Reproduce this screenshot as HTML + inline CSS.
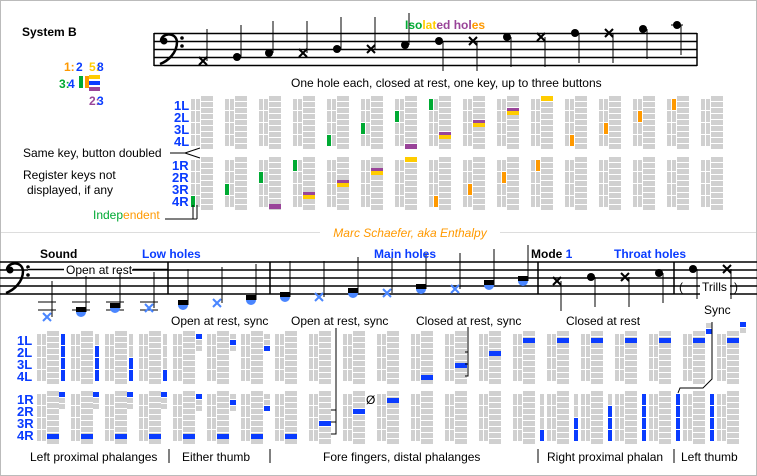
<!DOCTYPE html>
<html><head><meta charset="utf-8"><style>
html,body{margin:0;padding:0;background:#fff}
svg{display:block}
text{font-family:"Liberation Sans",sans-serif;font-size:12px}
.b{font-weight:bold}
.bl{fill:#0a3cff}
.lb{font-size:13px;font-weight:bold;fill:#0a3cff}
</style></head><body>
<svg id="s" width="757" height="476" viewBox="0 0 757 476" xmlns="http://www.w3.org/2000/svg">
<rect x="0.5" y="0.5" width="756" height="475" fill="#fff" stroke="#bbb"/>
<line x1="1" y1="232.5" x2="320" y2="232.5" stroke="#ddd"/>
<line x1="500" y1="232.5" x2="756" y2="232.5" stroke="#ddd"/>
<g id="g"></g>
<text x="22" y="36" class="b">System B</text>
<text x="64" y="71" class="b" fill="#f90">1:</text><text x="76" y="71" class="b bl">2</text>
<text x="89" y="71" class="b" fill="#fc0">5:</text><text x="97" y="71" class="b bl">8</text>
<text x="59" y="88" class="b" fill="#0a3">3:</text><text x="68" y="88" class="b bl">4</text>
<rect x="79" y="76" width="4" height="12" fill="#0a3"/><rect x="85" y="76" width="4" height="12" fill="#f90"/>
<rect x="89" y="75" width="11" height="4" fill="#fc0"/><rect x="89" y="81" width="11" height="4" fill="#0a3cff"/><rect x="89" y="87" width="11" height="4" fill="#949"/>
<text x="89" y="105" class="b" fill="#949">2:</text><text x="97" y="105" class="b bl">3</text>
<text x="405" y="29" class="b"><tspan fill="#0a3">Iso</tspan><tspan fill="#fc0">lat</tspan><tspan fill="#949">ed h</tspan><tspan fill="#949">ol</tspan><tspan fill="#f90">es</tspan></text>
<text x="291" y="87">One hole each, closed at rest, one key, up to three buttons</text>
<text x="174" y="110" class="lb">1L</text><text x="174" y="122" class="lb">2L</text><text x="174" y="134" class="lb">3L</text><text x="174" y="146" class="lb">4L</text>
<text x="172" y="170" class="lb">1R</text><text x="172" y="182" class="lb">2R</text><text x="172" y="194" class="lb">3R</text><text x="172" y="206" class="lb">4R</text>
<text x="23" y="157">Same key, button doubled</text>
<path d="M170 153 H185 L200 148 M185 153 L200 158" stroke="#000" fill="none"/>
<text x="23" y="179">Register keys not</text>
<text x="27" y="194">displayed, if any</text>
<text x="93" y="219"><tspan fill="#0a3">Indep</tspan><tspan fill="#f90">endent</tspan></text>
<path d="M165 219 H197 M193 219 V205 M197 219 V205" stroke="#000" fill="none"/>
<text x="410" y="237" text-anchor="middle" font-style="italic" fill="#f90">Marc Schaefer, aka Enthalpy</text>
<text x="40" y="258" class="b">Sound</text>
<text x="142" y="258" class="b bl">Low holes</text>
<text x="374" y="258" class="b bl">Main holes</text>
<text x="531" y="258" class="b">Mode <tspan class="bl">1</tspan></text>
<text x="614" y="258" class="b bl">Throat holes</text>
<text x="171" y="325">Open at rest, sync</text>
<text x="291" y="325">Open at rest, sync</text>
<text x="416" y="325">Closed at rest, sync</text>
<text x="566" y="325">Closed at rest</text>
<text x="704" y="314">Sync</text>
<text x="366" y="404">Ø</text>
<text x="17" y="345" class="lb">1L</text><text x="17" y="357" class="lb">2L</text><text x="17" y="369" class="lb">3L</text><text x="17" y="381" class="lb">4L</text>
<text x="17" y="404" class="lb">1R</text><text x="17" y="416" class="lb">2R</text><text x="17" y="428" class="lb">3R</text><text x="17" y="440" class="lb">4R</text>
<text x="30" y="461">Left proximal phalanges</text>
<text x="182" y="461">Either thumb</text>
<text x="323" y="461">Fore fingers, distal phalanges</text>
<text x="547" y="461">Right proximal phalan</text>
<text x="681" y="461">Left thumb</text>
<path d="M169 449 V463 M270 449 V463 M538 449 V463 M674 449 V463" stroke="#000"/>
<path d="M336 328 V434 H331 M336 422 H331 M336 410 H331" stroke="#000" fill="none"/>
<path d="M468 327 V376 H465 M468 364 H465 M468 352 H465" stroke="#000" fill="none"/>
<path d="M712 322 V379 L703 388 H680 L678 393" stroke="#000" fill="none"/>
<g id="top"></g>
</svg>
<script>
var g=document.getElementById('g'),NS='http://www.w3.org/2000/svg';
function R(x,y,w,h,c){var r=document.createElementNS(NS,'rect');r.setAttribute('x',x);r.setAttribute('y',y);r.setAttribute('width',w);r.setAttribute('height',h);r.setAttribute('fill',c);g.appendChild(r);}
function L(x1,y1,x2,y2,c,w){var l=document.createElementNS(NS,'line');l.setAttribute('x1',x1);l.setAttribute('y1',y1);l.setAttribute('x2',x2);l.setAttribute('y2',y2);l.setAttribute('stroke',c||'#000');l.setAttribute('stroke-width',w||1);g.appendChild(l);}
function C(x,y,r,c){var e=document.createElementNS(NS,'circle');e.setAttribute('cx',x);e.setAttribute('cy',y);e.setAttribute('r',r);e.setAttribute('fill',c);g.appendChild(e);}
function P(d,f,s,w){var e=document.createElementNS(NS,'path');e.setAttribute('d',d);e.setAttribute('fill',f);if(s){e.setAttribute('stroke',s);e.setAttribute('stroke-width',w);}g.appendChild(e);}
function X(x,y,c){L(x-4,y-4,x+4,y+4,c,2);L(x-4,y+4,x+4,y-4,c,2);}
function clef(x,y){ // y = top staff line
 C(x+4,y+7,3.5,'#000');
 P('M'+(x+1)+' '+(y+7)+' C'+(x+1)+' '+(y-1)+' '+(x+16)+' '+(y-3)+' '+(x+17)+' '+(y+8)+' C'+(x+17)+' '+(y+19)+' '+(x+8)+' '+(y+27)+' '+(x)+' '+(y+30),'none','#000',2.5);
 C(x+22,y+4,1.8,'#000');C(x+22,y+12,1.8,'#000');}
var G='#d0d0d0';
function chart(x,y){for(var k=0;k<4;k++){R(x,y+3+k*12,4,11,G);R(x+5,y+3+k*12,4,11,G);}for(var b=0;b<9;b++)R(x+10,y+b*6,12,5,G);}
for(var i=0;i<16;i++){var x=191+34*i;chart(x,96);chart(x,157);}
var GR='#0a3',OR='#f90',YE='#fc0',PU='#949';
function thin(i,col,grp,row,c,x0,y0){var x=x0+34*i+col*5;var y=y0[grp]+3+row*12;R(x,y,4,11,c);}
var ty=[96,157];
[[0,1,3],[1,1,2],[2,1,1],[3,1,0],[4,0,3],[5,0,2],[6,0,1],[7,0,0]].forEach(function(a){thin(a[0],0,a[1],a[2],GR,191,ty)});
[[7,1,3],[8,1,2],[9,1,1],[10,1,0],[11,0,3],[12,0,2],[13,0,1],[14,0,0]].forEach(function(a){thin(a[0],1,a[1],a[2],OR,191,ty)});
function py(i,y){var x=191+34*i+10;R(x,y,12,3,PU);R(x,y+3,12,4,YE);}
R(191+68+10,204,12,5,PU);py(3,192);py(4,180);py(5,168);R(191+204+10,144,12,5,PU);R(191+204+10,157,12,5,YE);py(7,132);py(8,120);py(9,108);R(191+340+10,96,12,5,YE);
var BL='#0a3cff';
for(var j=0;j<21;j++){var x=37+34*j;chart(x,331);chart(x,391);}
for(var j=0;j<4;j++){var x=37+34*j+24;for(var k=0;k<4;k++)R(x,334+k*12,4,11,k>=j?BL:G);R(x-2,392,6,5,BL);R(x-2,398,6,5,G);R(x-2,404,6,5,G);R(37+34*j+10,434,12,5,BL);}
for(var j=4;j<7;j++){var x=37+34*j+24,d=j-4;for(var k=0;k<3;k++){R(x-1,334+k*6,6,5,k==d?BL:G);R(x-1,394+k*6,6,5,k==d?BL:G);}R(37+34*j+10,434,12,5,BL);}
R(37+34*7+10,434,12,5,BL);R(37+34*8+10,421,12,5,BL);R(37+34*9+10,409,12,5,BL);R(37+34*10+10,398,12,5,BL);
R(37+34*11+10,375,12,5,BL);R(37+34*12+10,363,12,5,BL);R(37+34*13+10,351,12,5,BL);
for(var j=14;j<21;j++)R(37+34*j+10,338,12,5,BL);
for(var j=15;j<21;j++){var x=37+34*j-7;var n=Math.min(j-14,4);for(var k=0;k<4;k++)R(x,394+k*12,4,11,k>=4-n?BL:G);}
R(706,323,6,5,G);R(706,329,6,5,BL);R(740,322,6,5,BL);R(740,328,6,5,G);
// top staff
for(var k=0;k<5;k++)L(154,33.5+8*k,697,33.5+8*k,'#000',1.5);
L(154,33,154,66,'#000',1.5);L(697,33,697,66,'#000',1.5);
clef(160,34);
var tn=[[203,61,'x'],[237,57,'o'],[269,53,'o'],[303,53,'x'],[337,49,'o'],[371,49,'x'],[405,45,'o'],[439,41,'o'],[473,41,'x'],[507,37,'o'],[541,37,'x'],[575,33,'o'],[609,33,'x'],[643,29,'o'],[677,25,'o']];
tn.forEach(function(n,i){if(n[2]=='o')C(n[0],n[1],4,'#000');else X(n[0],n[1],'#000');
 if(i<7)L(n[0]+4,n[1],n[0]+4,n[1]-32);else L(n[0]+4,n[1],n[0]+4,n[1]+30);});
L(671,25,683,25);
// bottom staff
for(var k=0;k<5;k++)L(0,262+8*k,757,262+8*k,'#000',1.5);
[168,270,538,674].forEach(function(x){L(x,262,x,294,'#000',1.5);});
clef(6,263);
R(28,268,104,3,'#fff');
L(28,269.5,64,269.5,'#000',1.5);L(133,269.5,168,269.5,'#000',1.5);
var bn=[[47,317,'x',2],[81,312,'o',1],[115,308,'o',1],[149,308,'x',1],[183,305,'o',0],[217,303,'x',0],[251,300,'o',0],[285,297,'o',0],[319,297,'x',0],[353,293,'o',0],[387,293,'x',0],[421,289,'o',0],[455,289,'x',0],[489,285,'o',0],[523,281,'o',0]];
bn.forEach(function(n){var x=n[0],y=n[1];
 if(n[3]>=1){L(x-9,302,x+9,302);} if(n[3]>=2){L(x-9,310,x+9,310);} if(n[3]==1&&y>306)L(x-9,310,x+9,310);
 if(n[2]=='o'){C(x,y,5,'#4a86ff');R(x-5,y-5,10,5,'#000');}else X(x,y,'#4a86ff');
 L(x+5,y,x+5,y-36);});
var mn=[[557,281,'x'],[591,277,'o'],[625,277,'x'],[659,273,'o'],[693,269,'o'],[727,269,'x']];
mn.forEach(function(n){if(n[2]=='o')C(n[0],n[1],4,'#000');else X(n[0],n[1],'#000');L(n[0]+4,n[1],n[0]+4,n[1]+30);});
R(700,281,30,14,'#fff');
var s=document.getElementById('s');
function TX(str,x,y,sz,cls){var t=document.createElementNS(NS,'text');t.setAttribute('x',x);t.setAttribute('y',y);if(sz)t.setAttribute('font-size',sz);t.textContent=str;s.appendChild(t);}
TX('Open at rest',66,274,13);
TX('Trills',702,291,12);
TX('(',679,291,22);TX(')',734,291,22);
</script>
</body></html>
